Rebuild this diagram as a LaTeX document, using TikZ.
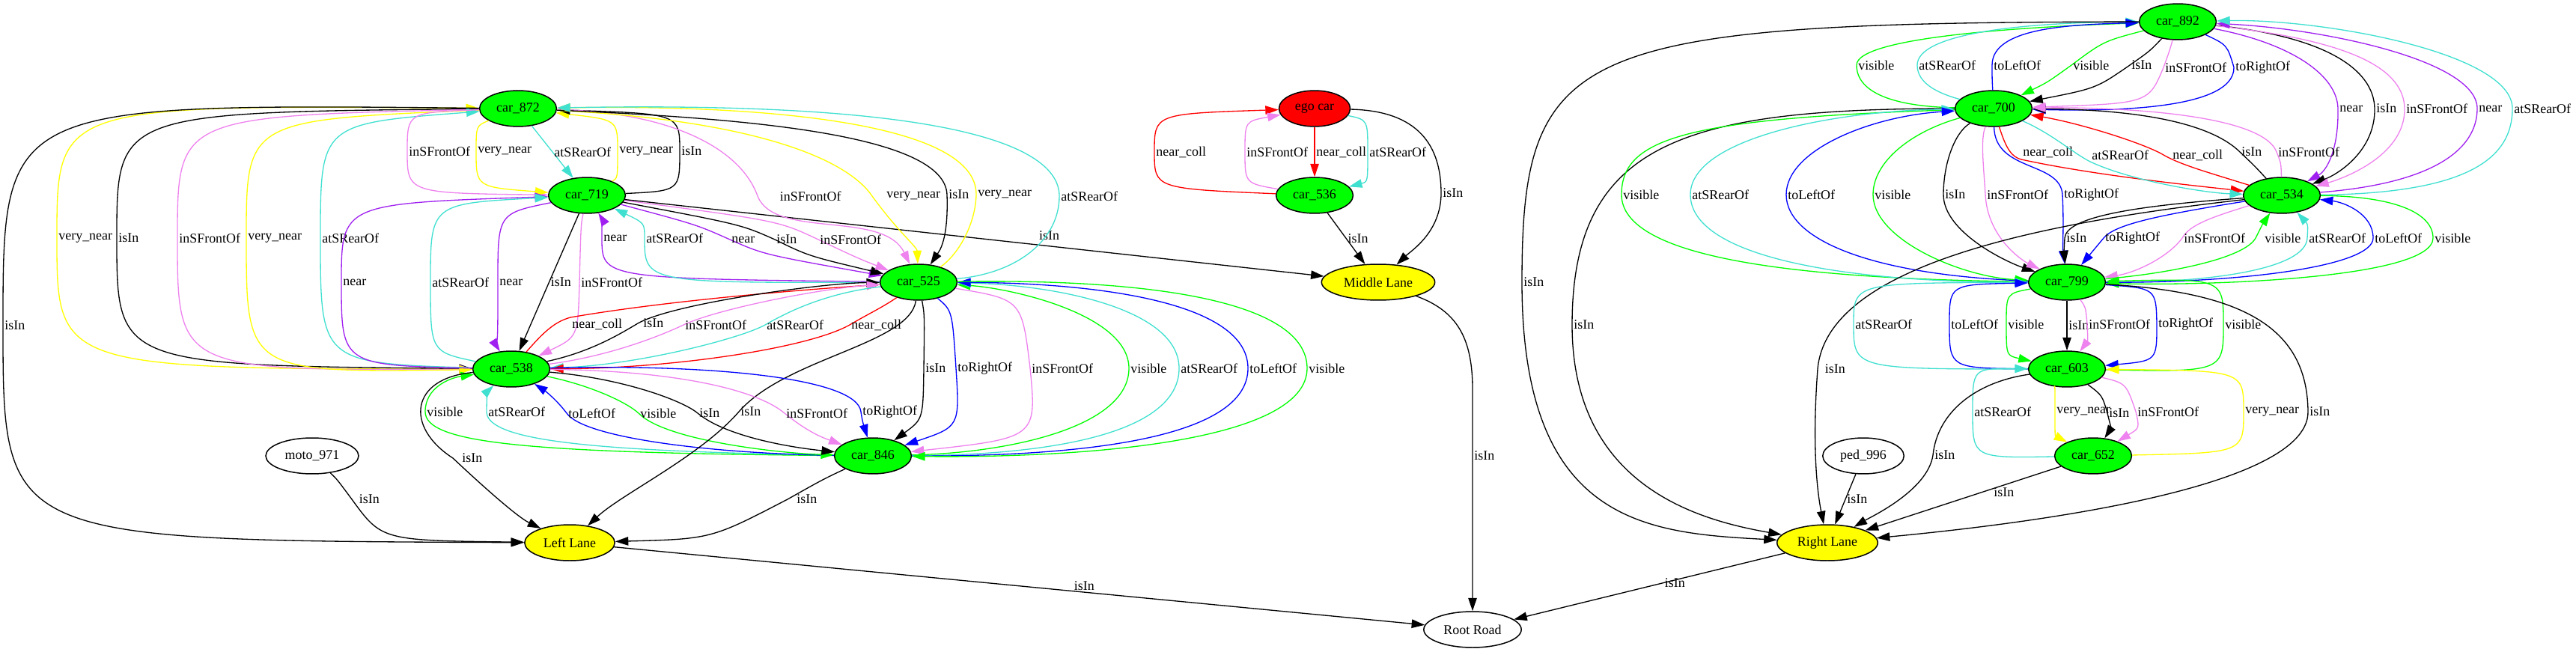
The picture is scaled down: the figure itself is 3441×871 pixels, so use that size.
\documentclass[tikz,border=0pt]{standalone}
\usepackage{fontspec}
\setmainfont{Liberation Serif}
\usepackage{xcolor}
\usepackage{tikz}
\usetikzlibrary{shapes.geometric, arrows.meta}
\definecolor{gvgreen}{RGB}{0,255,0}
\definecolor{gvyellow}{RGB}{255,255,0}
\definecolor{gvviolet}{RGB}{238,130,238}
\definecolor{gvcyan}{RGB}{64,224,208}
\definecolor{gvpurple}{RGB}{160,32,240}
\newcommand{\gvfont}{\fontsize{10.2pt}{12pt}\selectfont}
\tikzstyle{entity} = [ellipse, draw=black, line width=0.85pt, minimum height=0.96cm, inner xsep=0.15cm, inner ysep=0pt, font=\gvfont]
\tikzstyle{car} = [entity, fill=gvgreen]
\tikzstyle{lane} = [entity, fill=gvyellow]
\tikzstyle{arrow} = [line width=0.75pt, -{Triangle[length=0.35cm, width=0.23cm]}]
\tikzstyle{lbl} = [anchor=west, inner sep=1pt, text=black, font=\gvfont]

\begin{document}
\begin{tikzpicture}[x=0.02cm, y=-0.02cm]
\useasboundingbox (0,0) rectangle (3441,871);

% Left lane cars
\node[car] (c872) at (692,145) {car\_872};
\node[car] (c719) at (784,261) {car\_719};
\node[car] (c525) at (1227,377) {car\_525};
\node[car] (c538) at (683,493) {car\_538};
\node[car] (c846) at (1166,609) {car\_846};
\node[entity] (moto) at (417,609) {moto\_971};

% Middle lane
\node[entity, fill=red] (ego) at (1756,145) {ego car};
\node[car] (c536) at (1756,261) {car\_536};

% Right lane cars
\node[car] (c892) at (2909,29) {car\_892};
\node[car] (c700) at (2663,145) {car\_700};
\node[car] (c534) at (3048,261) {car\_534};
\node[car] (c799) at (2761,377) {car\_799};
\node[car] (c603) at (2761,493) {car\_603};
\node[car] (c652) at (2796,609) {car\_652};
\node[entity] (ped) at (2489,609) {ped\_996};

% Lanes and road
\node[lane] (leftlane) at (761,725) {Left Lane};
\node[lane] (midlane) at (1841,377) {Middle Lane};
\node[lane] (rightlane) at (2441,725) {Right Lane};
\node[entity] (root) at (1967,841) {Root Road};

% car_872 <-> car_538
\draw[arrow, gvyellow] (c538) .. controls (76,493) .. (76,318) node[lbl] {very\_near} .. controls (76,140) .. (c872);
\draw[arrow] (c872) .. controls (156,150) .. (156,318) node[lbl] {isIn} .. controls (156,488) .. (c538);
\draw[arrow, gvviolet] (c872) .. controls (237,155) .. (237,318) node[lbl] {inSFrontOf} .. controls (237,495) .. (c538);
\draw[arrow, gvyellow] (c872) .. controls (329,160) .. (329,318) node[lbl] {very\_near} .. controls (329,498) .. (c538);
\draw[arrow, gvcyan] (c538) .. controls (428,485) .. (428,318) node[lbl] {atSRearOf} .. controls (428,165) .. (c872);
\draw[arrow] (c872) .. controls (4,138) .. (4,435) node[lbl] {isIn} .. controls (4,722) .. (leftlane);

% car_872 <-> car_719
\draw[arrow, gvviolet] (c872) .. controls (544,150) .. (544,202) node[lbl] {inSFrontOf} .. controls (544,258) .. (c719);
\draw[arrow, gvyellow] (c872) .. controls (636,168) .. (636,202) node[lbl] {very\_near} .. controls (636,250) .. (c719);
\draw[arrow, gvcyan] (c872) -- node[lbl] {atSRearOf} (c719);
\draw[arrow, gvyellow] (c719) .. controls (825,238) .. (825,202) node[lbl] {very\_near} .. controls (825,160) .. (c872);
\draw[arrow] (c719) .. controls (908,255) .. (908,202) node[lbl] {isIn} .. controls (908,152) .. (c872);

% car_719 <-> car_538
\draw[arrow, gvpurple] (c538) .. controls (456,488) .. (456,377) node[lbl] {near} .. controls (456,272) .. (c719);
\draw[arrow, gvcyan] (c538) .. controls (575,470) .. (575,377) node[lbl] {atSRearOf} .. controls (575,272) .. (c719);
\draw[arrow, gvpurple] (c719) .. controls (665,285) .. (665,377) node[lbl] {near} .. controls (665,465) .. (c538);
\draw[arrow] (c719) -- node[lbl] {isIn} (c538);
\draw[arrow, gvviolet] (c719) .. controls (776,300) .. (774,377) node[lbl] {inSFrontOf} .. controls (772,450) .. (c538);

% car_719 <-> car_525
\draw[arrow, gvpurple] (c525) .. controls (804,372) .. (804,318) node[lbl] {near} .. controls (804,292) .. (c719);
\draw[arrow, gvcyan] (c525) .. controls (861,378) .. (861,318) node[lbl] {atSRearOf} .. controls (861,298) .. (c719);
\draw[arrow, gvpurple] (c719) .. controls (930,300) .. (975,320) node[lbl] {near} .. controls (1020,340) .. (c525);
\draw[arrow] (c719) .. controls (990,300) .. (1035,320) node[lbl] {isIn} .. controls (1080,342) .. (c525);
\draw[arrow, gvviolet] (c719) .. controls (1040,295) .. (1093,320) node[lbl] {inSFrontOf} .. controls (1146,345) .. (c525);
\draw[arrow] (c719) -- node[lbl, pos=.59, anchor=south west, yshift=0.08cm] {isIn} (midlane);

% car_872 <-> car_525
\draw[arrow, gvviolet] (c872) .. controls (900,150) and (990,200) .. (1012,262) node[lbl, xshift=0.55cm] {inSFrontOf} .. controls (1035,320) and (1180,280) .. (c525);
\draw[arrow, gvyellow] (c872) .. controls (1000,160) and (1130,210) .. (1165,262) node[lbl, xshift=0.34cm] {very\_near} .. controls (1200,310) and (1225,330) .. (c525);
\draw[arrow] (c872) .. controls (1000,158) and (1262,180) .. (1265,260) node[lbl] {isIn} .. controls (1267,320) and (1255,335) .. (c525);
\draw[arrow, gvyellow] (c525) .. controls (1280,340) and (1303,300) .. (1304,260) node[lbl] {very\_near} .. controls (1305,160) and (1000,140) .. (c872);
\draw[arrow, gvcyan] (c525) .. controls (1360,365) and (1415,320) .. (1415,262) node[lbl] {atSRearOf} .. controls (1415,190) and (1250,135) .. (c872);

% car_525 <-> car_538
\draw[arrow, red] (c538) .. controls (725,445) and (740,430) .. (762,424) node[lbl, anchor=north west] {near\_coll} .. controls (900,400) and (1100,385) .. (c525);
\draw[arrow] (c538) .. controls (790,470) and (830,445) .. (852,432) node[lbl, xshift=0.1cm] {isIn} .. controls (900,405) and (1100,378) .. (c525);
\draw[arrow, gvviolet] (c538) .. controls (820,475) and (890,445) .. (913,434) node[lbl] {inSFrontOf} .. controls (960,412) and (1100,385) .. (c525);
\draw[arrow, gvcyan] (c525) .. controls (1100,392) and (1050,418) .. (1022,434) node[lbl] {atSRearOf} .. controls (990,452) and (850,488) .. (c538);
\draw[arrow, red] (c525) .. controls (1180,410) and (1155,422) .. (1135,434) node[lbl] {near\_coll} .. controls (1080,465) and (900,492) .. (c538);

% car_538 <-> car_846
\draw[arrow, gvgreen] (c846) .. controls (700,605) and (568,592) .. (568,550) node[lbl] {visible} .. controls (568,518) and (600,505) .. (c538);
\draw[arrow] (c538) .. controls (548,505) and (540,570) .. (605,612) node[lbl, xshift=0.2cm] {isIn} .. controls (640,645) and (690,690) .. (leftlane);
\draw[arrow, gvcyan] (c846) .. controls (800,603) and (650,590) .. (650,550) node[lbl] {atSRearOf} .. controls (650,530) and (652,522) .. (c538);
\draw[arrow, blue] (c846) .. controls (950,606) and (780,585) .. (757,552) node[lbl] {toLeftOf} .. controls (742,532) and (725,520) .. (c538);
\draw[arrow, gvgreen] (c538) .. controls (790,515) and (838,538) .. (853,552) node[lbl] {visible} .. controls (890,590) and (1050,606) .. (c846);
\draw[arrow] (c538) .. controls (830,505) and (912,535) .. (932,552) node[lbl] {isIn} .. controls (968,582) and (1050,597) .. (c846);
\draw[arrow] (c525) .. controls (1215,460) and (1050,478) .. (987,550) node[lbl] {isIn} .. controls (935,610) and (830,660) .. (leftlane);
\draw[arrow, gvviolet] (c538) .. controls (900,495) and (1010,520) .. (1048,552) node[lbl] {inSFrontOf} .. controls (1080,578) and (1100,585) .. (c846);
\draw[arrow, blue] (c538) .. controls (950,486) and (1145,505) .. (1150,550) node[lbl] {toRightOf} .. controls (1152,565) and (1155,572) .. (c846);

% car_525 <-> car_846
\draw[arrow] (c525) .. controls (1235,420) .. (1234,492) node[lbl] {isIn} .. controls (1233,560) .. (c846);
\draw[arrow, blue] (c525) .. controls (1272,415) .. (1277,492) node[lbl] {toRightOf} .. controls (1282,570) .. (c846);
\draw[arrow, gvviolet] (c525) .. controls (1365,400) .. (1376,492) node[lbl] {inSFrontOf} .. controls (1385,585) .. (c846);
\draw[arrow, gvgreen] (c846) .. controls (1350,605) and (1508,570) .. (1508,492) node[lbl] {visible} .. controls (1508,420) and (1350,385) .. (c525);
\draw[arrow, gvcyan] (c846) .. controls (1400,608) and (1575,580) .. (1575,492) node[lbl] {atSRearOf} .. controls (1575,410) and (1400,380) .. (c525);
\draw[arrow, blue] (c846) .. controls (1450,610) and (1667,585) .. (1667,492) node[lbl] {toLeftOf} .. controls (1667,400) and (1450,378) .. (c525);
\draw[arrow, gvgreen] (c525) .. controls (1550,372) and (1746,405) .. (1746,492) node[lbl] {visible} .. controls (1746,590) and (1450,612) .. (c846);

% into the left lane and the road
\draw[arrow] (moto) .. controls (450,640) .. (470,667) node[lbl, xshift=0.15cm] {isIn} .. controls (510,722) .. (leftlane);
\draw[arrow] (c846) .. controls (1100,640) .. (1052,667) node[lbl, xshift=0.2cm] {isIn} .. controls (950,720) .. (leftlane);
\draw[arrow] (leftlane) -- node[lbl, pos=.58, anchor=south] {isIn} (root);
\draw[arrow] (midlane) .. controls (1945,415) and (1967,450) .. (1967,520) -- node[lbl, pos=.3] {isIn} (root);
\draw[arrow] (rightlane) -- node[lbl, pos=.45] {isIn} (root);

% ego car <-> car_536
\draw[arrow, red] (c536) .. controls (1542,252) .. (1542,203) node[lbl] {near\_coll} .. controls (1542,152) .. (ego);
\draw[arrow, gvviolet] (c536) .. controls (1663,245) .. (1663,203) node[lbl] {inSFrontOf} .. controls (1663,162) .. (ego);
\draw[arrow, red] (ego) -- node[lbl] {near\_coll} (c536);
\draw[arrow, gvcyan] (ego) .. controls (1827,160) .. (1827,203) node[lbl] {atSRearOf} .. controls (1827,243) .. (c536);
\draw[arrow] (ego) .. controls (1895,148) and (1925,195) .. (1925,258) node[lbl] {isIn} .. controls (1925,310) and (1885,335) .. (midlane);
\draw[arrow] (c536) -- node[lbl] {isIn} (midlane);

% car_892 <-> car_700
\draw[arrow, gvgreen] (c700) .. controls (2520,142) and (2480,120) .. (2480,87) node[lbl] {visible} .. controls (2480,50) and (2700,36) .. (c892);
\draw[arrow, gvcyan] (c700) .. controls (2590,125) and (2561,112) .. (2561,87) node[lbl] {atSRearOf} .. controls (2561,45) and (2700,30) .. (c892);
\draw[arrow, blue] (c700) .. controls (2661,105) .. (2661,87) node[lbl] {toLeftOf} .. controls (2661,38) and (2760,33) .. (c892);
\draw[arrow, gvgreen] (c892) .. controls (2810,55) .. (2767,87) node[lbl] {visible} .. controls (2735,110) .. (c700);
\draw[arrow] (c892) .. controls (2872,68) .. (2845,87) node[lbl] {isIn} .. controls (2800,118) .. (c700);
\draw[arrow, gvviolet] (c892) .. controls (2898,68) .. (2890,90) node[lbl] {inSFrontOf} .. controls (2870,138) .. (c700);
\draw[arrow, blue] (c892) .. controls (2975,60) .. (2984,90) node[lbl] {toRightOf} .. controls (2985,150) and (2800,148) .. (c700);

% car_892 <-> car_534
\draw[arrow, gvpurple] (c892) .. controls (3060,58) and (3122,100) .. (3123,145) node[lbl] {near} .. controls (3124,200) and (3108,228) .. (c534);
\draw[arrow] (c892) .. controls (3100,48) and (3171,90) .. (3172,145) node[lbl] {isIn} .. controls (3173,200) and (3125,232) .. (c534);
\draw[arrow, gvviolet] (c892) .. controls (3150,55) and (3211,95) .. (3212,145) node[lbl] {inSFrontOf} .. controls (3213,210) and (3125,240) .. (c534);
\draw[arrow, gvpurple] (c534) .. controls (3250,245) and (3309,200) .. (3309,145) node[lbl] {near} .. controls (3309,80) and (3100,38) .. (c892);
\draw[arrow, gvcyan] (c534) .. controls (3300,258) and (3356,210) .. (3356,145) node[lbl] {atSRearOf} .. controls (3356,70) and (3100,25) .. (c892);

% into the right lane
\draw[arrow] (c892) .. controls (2100,30) and (2033,60) .. (2033,377) node[lbl] {isIn} .. controls (2033,700) and (2200,712) .. (rightlane);
\draw[arrow] (c700) .. controls (2250,145) and (2100,190) .. (2100,434) node[lbl] {isIn} .. controls (2100,650) and (2270,695) .. (rightlane);

% car_700 <-> car_799
\draw[arrow, gvgreen] (c700) .. controls (2250,158) and (2166,185) .. (2166,260) node[lbl] {visible} .. controls (2166,345) and (2400,372) .. (c799);
\draw[arrow, gvcyan] (c799) .. controls (2450,378) and (2258,340) .. (2258,260) node[lbl] {atSRearOf} .. controls (2258,185) and (2450,148) .. (c700);
\draw[arrow, blue] (c799) .. controls (2500,368) and (2386,320) .. (2386,260) node[lbl] {toLeftOf} .. controls (2386,200) and (2500,155) .. (c700);
\draw[arrow, gvgreen] (c700) .. controls (2555,175) and (2502,215) .. (2502,260) node[lbl] {visible} .. controls (2502,320) and (2620,370) .. (c799);
\draw[arrow] (c700) .. controls (2610,178) and (2596,220) .. (2596,260) node[lbl] {isIn} .. controls (2596,310) and (2680,350) .. (c799);
\draw[arrow, gvviolet] (c700) .. controls (2645,185) and (2650,225) .. (2652,260) node[lbl] {inSFrontOf} .. controls (2655,320) and (2705,350) .. (c799);
\draw[arrow, blue] (c700) .. controls (2665,230) and (2752,215) .. (2755,260) node[lbl] {toRightOf} .. controls (2757,300) and (2755,330) .. (c799);

% car_700 <-> car_534
\draw[arrow, red] (c700) .. controls (2680,200) and (2688,210) .. (2700,213) node[lbl, anchor=south west] {near\_coll} .. controls (2800,235) and (2950,250) .. (c534);
\draw[arrow, gvcyan] (c700) .. controls (2740,178) and (2770,205) .. (2792,216) node[lbl, anchor=south west] {atSRearOf} .. controls (2850,243) and (2950,258) .. (c534);
\draw[arrow, red] (c534) .. controls (2955,232) and (2912,220) .. (2890,207) node[lbl, xshift=0.2cm] {near\_coll} .. controls (2865,192) and (2780,165) .. (c700);
\draw[arrow] (c534) .. controls (3012,222) .. (2992,203) node[lbl] {isIn} .. controls (2940,152) and (2800,146) .. (c700);
\draw[arrow, gvviolet] (c534) .. controls (3047,218) .. (3041,203) node[lbl] {inSFrontOf} .. controls (3020,148) and (2800,143) .. (c700);

% car_534 <-> car_799
\draw[arrow] (c534) .. controls (2850,275) and (2760,290) .. (2758,318) node[lbl] {isIn} .. controls (2757,335) .. (c799);
\draw[arrow, blue] (c534) .. controls (2880,288) and (2825,300) .. (2810,318) node[lbl] {toRightOf} .. controls (2795,336) .. (c799);
\draw[arrow, gvviolet] (c534) .. controls (2955,290) and (2925,300) .. (2915,318) node[lbl] {inSFrontOf} .. controls (2895,345) and (2850,365) .. (c799);
\draw[arrow, gvgreen] (c799) .. controls (2900,365) and (2998,345) .. (3013,318) node[lbl, xshift=0.2cm] {visible} .. controls (3022,300) .. (c534);
\draw[arrow, gvcyan] (c799) .. controls (2950,378) and (3080,360) .. (3082,318) node[lbl] {atSRearOf} .. controls (3083,300) .. (c534);
\draw[arrow, blue] (c799) .. controls (3000,378) and (3170,355) .. (3170,318) node[lbl] {toLeftOf} .. controls (3170,285) and (3130,270) .. (c534);
\draw[arrow, gvgreen] (c534) .. controls (3200,262) and (3250,285) .. (3250,318) node[lbl] {visible} .. controls (3250,372) and (2950,382) .. (c799);
\draw[arrow] (c534) .. controls (2700,300) and (2440,360) .. (2428,493) node[lbl, xshift=0.15cm] {isIn} .. controls (2420,600) and (2428,660) .. (rightlane);

% car_799 <-> car_603
\draw[arrow, gvcyan] (c603) .. controls (2476,493) .. (2476,433) node[lbl] {atSRearOf} .. controls (2476,378) .. (c799);
\draw[arrow, blue] (c603) .. controls (2604,492) .. (2604,433) node[lbl] {toLeftOf} .. controls (2604,380) .. (c799);
\draw[arrow, gvgreen] (c799) .. controls (2680,392) .. (2680,433) node[lbl] {visible} .. controls (2680,475) .. (c603);
\draw[arrow] (c799) -- node[lbl] {isIn} (c603);
\draw[arrow, gvviolet] (c799) .. controls (2786,410) .. (2788,433) node[lbl] {inSFrontOf} .. controls (2789,455) .. (c603);
\draw[arrow, blue] (c799) .. controls (2880,385) .. (2881,433) node[lbl] {toRightOf} .. controls (2881,482) .. (c603);
\draw[arrow, gvgreen] (c603) .. controls (2970,497) .. (2970,433) node[lbl] {visible} .. controls (2970,372) .. (c799);
\draw[arrow] (c799) .. controls (3000,390) and (3082,440) .. (3083,550) node[lbl] {isIn} .. controls (3084,660) and (2650,705) .. (rightlane);

% car_603 <-> car_652
\draw[arrow, gvcyan] (c652) .. controls (2635,612) .. (2635,550) node[lbl] {atSRearOf} .. controls (2635,492) .. (c603);
\draw[arrow, gvyellow] (c603) .. controls (2745,515) .. (2745,550) node[lbl] {very\_near} .. controls (2745,582) .. (c652);
\draw[arrow] (c603) .. controls (2808,528) .. (2815,552) node[lbl] {isIn} .. controls (2820,572) .. (c652);
\draw[arrow, gvviolet] (c603) .. controls (2840,512) .. (2853,550) node[lbl] {inSFrontOf} .. controls (2858,572) .. (c652);
\draw[arrow, gvyellow] (c652) .. controls (2997,605) .. (2997,550) node[lbl] {very\_near} .. controls (2997,495) .. (c603);
\draw[arrow] (c603) .. controls (2640,510) and (2588,550) .. (2582,608) node[lbl] {isIn} .. controls (2575,655) and (2500,690) .. (rightlane);

% pedestrian and car_652
\draw[arrow] (ped) -- node[lbl] {isIn} (rightlane);
\draw[arrow] (c652) -- node[lbl, pos=.4, xshift=0.25cm] {isIn} (rightlane);
\end{tikzpicture}
\end{document}
